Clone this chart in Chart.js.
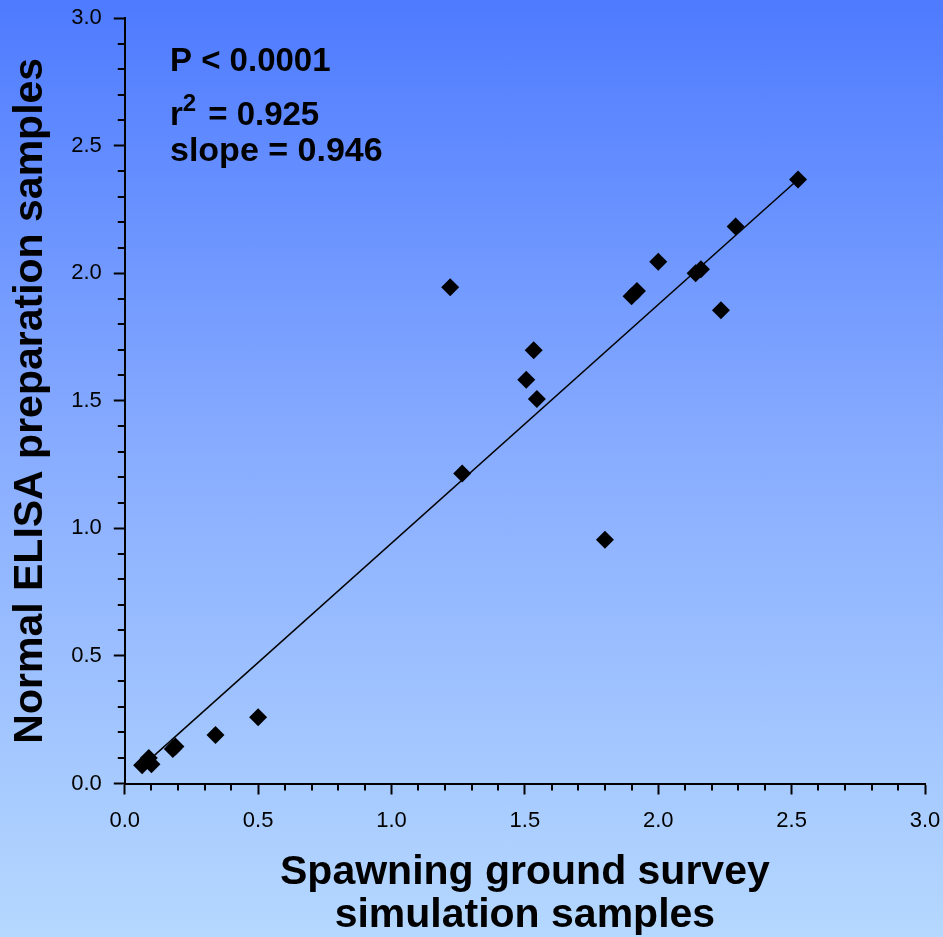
<!DOCTYPE html>
<html>
<head>
<meta charset="utf-8">
<script src="https://cdn.jsdelivr.net/npm/chart.js@4"></script>
<style>
  html, body { margin: 0; padding: 0; }
  body { width: 943px; height: 937px; overflow: hidden;
    background: linear-gradient(to bottom, #4e7bff 0%, #8aaeff 50%, #b5d8ff 100%); }
  #wrap { position: relative; width: 943px; height: 937px; }
</style>
</head>
<body>
<div id="wrap"><canvas id="chart"></canvas></div>
<script>
// Valores
const SAMPLE_X = [0.065, 0.10, 0.09, 0.18, 0.19, 0.34, 0.50, 1.22, 1.265, 1.505, 1.533, 1.545, 1.80, 1.90, 1.92, 2.00, 2.14, 2.16, 2.235, 2.29, 2.524];
const SAMPLE_Y = [0.072, 0.075, 0.10, 0.135, 0.145, 0.19, 0.26, 1.945, 1.215, 1.582, 1.698, 1.507, 0.955, 1.91, 1.93, 2.045, 2.00, 2.015, 1.855, 2.183, 2.367];
const FIT_X = [0.07, 2.524];
const FIT_Y = [0.072, 2.367];
const AXIS_MIN = 0, AXIS_MAX = 3.0, MINOR_STEP = 0.1;
const STATS = ["P < 0.0001", "0.925", "slope = 0.946"];
const X_TITLE = ["Spawning ground survey", "simulation samples"];
const Y_TITLE = "Normal ELISA preparation samples";

const FONT = "'Liberation Sans', Arial, sans-serif";
const isMajor = v => Math.round(v * 10) % 5 === 0;

const minorTicks = {
  id: "minorTicks",
  afterDraw(chart) {
    const c = chart.ctx;
    c.save();
    c.strokeStyle = "#000";
    c.lineWidth = 2;
    const xs = chart.scales.x, ys = chart.scales.y;
    for (const t of xs.ticks) {
      if (isMajor(t.value)) continue;
      const px = Math.round(xs.getPixelForValue(t.value));
      c.beginPath(); c.moveTo(px, xs.top); c.lineTo(px, xs.top + 7); c.stroke();
    }
    for (const t of ys.ticks) {
      if (isMajor(t.value)) continue;
      const py = Math.round(ys.getPixelForValue(t.value));
      c.beginPath(); c.moveTo(ys.right, py); c.lineTo(ys.right - 7, py); c.stroke();
    }
    c.restore();
  },
};

const statsText = {
  id: "statsText",
  afterDraw(chart) {
    const c = chart.ctx;
    c.save();
    c.fillStyle = "#000";
    c.textBaseline = "alphabetic";
    c.textAlign = "left";
    c.font = "bold 33px " + FONT;
    const x0 = 170;
    c.fillText(STATS[0], x0, 71);
    c.fillText("r", x0, 125);
    let x = x0 + c.measureText("r").width;
    c.font = "bold 24px " + FONT;
    c.fillText("2", x, 111);
    x += c.measureText("2").width + 12;
    c.font = "bold 33px " + FONT;
    c.fillText("= " + STATS[1], x, 125);
    c.font = "bold 34px " + FONT;
    c.fillText(STATS[2], x0, 161);
    c.restore();
  },
};

const scaleBase = {
  type: "linear",
  min: AXIS_MIN, max: AXIS_MAX,
  border: { color: "#000", width: 2 },
  grid: {
    drawOnChartArea: false,
    tickLength: 11,
    tickWidth: 2,
    tickColor: c => (c.tick && isMajor(c.tick.value)) ? "#000" : "rgba(0,0,0,0)",
  },
};

new Chart(document.getElementById("chart"), {
  type: "scatter",
  data: {
    datasets: [
      {
        label: "samples",
        data: SAMPLE_X.map((x, i) => ({ x, y: SAMPLE_Y[i] })),
        pointStyle: "rectRot",
        pointRadius: 9,
        pointHoverRadius: 9,
        backgroundColor: "#000",
        borderColor: "#000",
        borderWidth: 0,
      },
      {
        label: "fit",
        type: "line",
        data: FIT_X.map((x, i) => ({ x, y: FIT_Y[i] })),
        borderColor: "#000",
        borderWidth: 1.5,
        pointRadius: 0,
        fill: false,
      },
    ],
  },
  options: {
    responsive: true,
    maintainAspectRatio: false,
    animation: false,
    layout: { padding: { left: 0, right: 18, top: 18, bottom: 0 } },
    plugins: { legend: { display: false }, tooltip: { enabled: false } },
    scales: {
      x: {
        ...scaleBase,
        position: "bottom",
        afterFit: s => { s.paddingRight = 0; s.paddingLeft = 0; },
        ticks: {
          stepSize: MINOR_STEP, autoSkip: false, maxRotation: 0, padding: 13,
          color: "#000", font: { family: FONT, size: 22 },
          callback: v => isMajor(v) ? v.toFixed(1) : "",
        },
        title: {
          display: true, text: X_TITLE, color: "#000",
          font: { family: FONT, size: 41, weight: "bold", lineHeight: 1.05 },
          padding: { top: 4, bottom: 0 },
        },
      },
      y: {
        ...scaleBase,
        position: "left",
        afterFit: s => { s.paddingTop = 0; s.paddingBottom = 0; },
        ticks: {
          stepSize: MINOR_STEP, autoSkip: false, padding: 12,
          color: "#000", font: { family: FONT, size: 22 },
          callback: v => isMajor(v) ? v.toFixed(1) : "",
        },
        title: {
          display: true, text: Y_TITLE, color: "#000",
          font: { family: FONT, size: 41, weight: "bold", lineHeight: 1.2 },
          padding: { top: 6, bottom: 4 },
        },
      },
    },
  },
  plugins: [minorTicks, statsText],
});
</script>
</body>
</html>
